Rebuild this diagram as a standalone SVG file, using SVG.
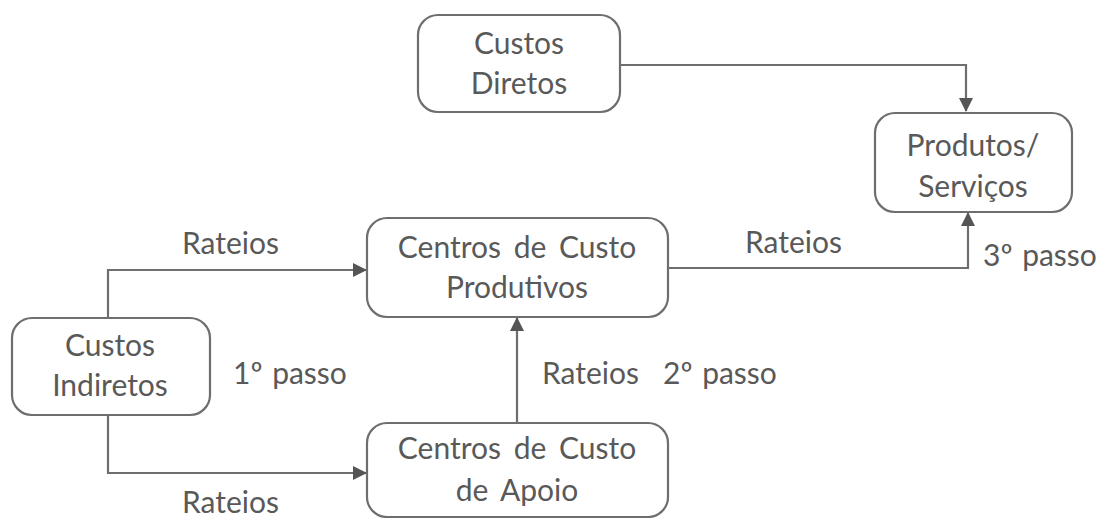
<svg xmlns="http://www.w3.org/2000/svg" width="1107" height="518" viewBox="0 0 1107 518">
<defs>
<style>
.box{fill:#fff;stroke:#6e6e6e;stroke-width:2.2}
.t{font-family:Lato,"Open Sans",sans-serif;font-size:30px;fill:#595959;text-anchor:middle;word-spacing:5px}
.l{font-family:Lato,"Open Sans",sans-serif;font-size:30px;fill:#595959;word-spacing:2px}
.c{fill:none;stroke:#6e6e6e;stroke-width:2.2}
</style>
<marker id="ahL" markerWidth="14" markerHeight="14" refX="13" refY="7" orient="auto" markerUnits="userSpaceOnUse" viewBox="0 0 14 14">
<path d="M0,0 L14,7 L0,14 z" fill="#555"/>
</marker>
</defs>
<rect width="1107" height="518" fill="#fff"/>
<g id="connectors">
<path class="c" d="M620,65 H966 V111" marker-end="url(#ahL)"/>
<path class="c" d="M668,268 H968 V213" marker-end="url(#ahL)"/>
<path class="c" d="M108,318 V270 H366" marker-end="url(#ahL)"/>
<path class="c" d="M108,415 V473 H366" marker-end="url(#ahL)"/>
<path class="c" d="M517,423 V318" marker-end="url(#ahL)"/>
</g>
<g id="custos-diretos">
<rect class="box" x="418" y="15" width="202" height="97" rx="20"/>
<text class="t" x="519" y="54">Custos</text>
<text class="t" x="519" y="94">Diretos</text>
</g>
<g id="produtos-servicos">
<rect class="box" x="875" y="113" width="197" height="99" rx="20"/>
<text class="t" x="973" y="156">Produtos/</text>
<text class="t" x="973" y="197">Serviços</text>
</g>
<g id="centros-produtivos">
<rect class="box" x="367" y="218" width="301" height="99" rx="20"/>
<text class="t" x="517" y="258">Centros de Custo</text>
<text class="t" x="517" y="298">Produtivos</text>
</g>
<g id="custos-indiretos">
<rect class="box" x="12" y="318" width="198" height="97" rx="20"/>
<text class="t" x="110" y="356">Custos</text>
<text class="t" x="110" y="396">Indiretos</text>
</g>
<g id="centros-apoio">
<rect class="box" x="367" y="423" width="301" height="94" rx="20"/>
<text class="t" x="517" y="459">Centros de Custo</text>
<text class="t" x="517" y="501">de Apoio</text>
</g>
<g id="labels">
<text class="l" x="182" y="254">Rateios</text>
<text class="l" x="745" y="253">Rateios</text>
<text class="l" x="983" y="266">3º passo</text>
<text class="l" x="233" y="384">1º passo</text>
<text class="l" x="542" y="384">Rateios</text>
<text class="l" x="663" y="384">2º passo</text>
<text class="l" x="182" y="513">Rateios</text>
</g>
</svg>
